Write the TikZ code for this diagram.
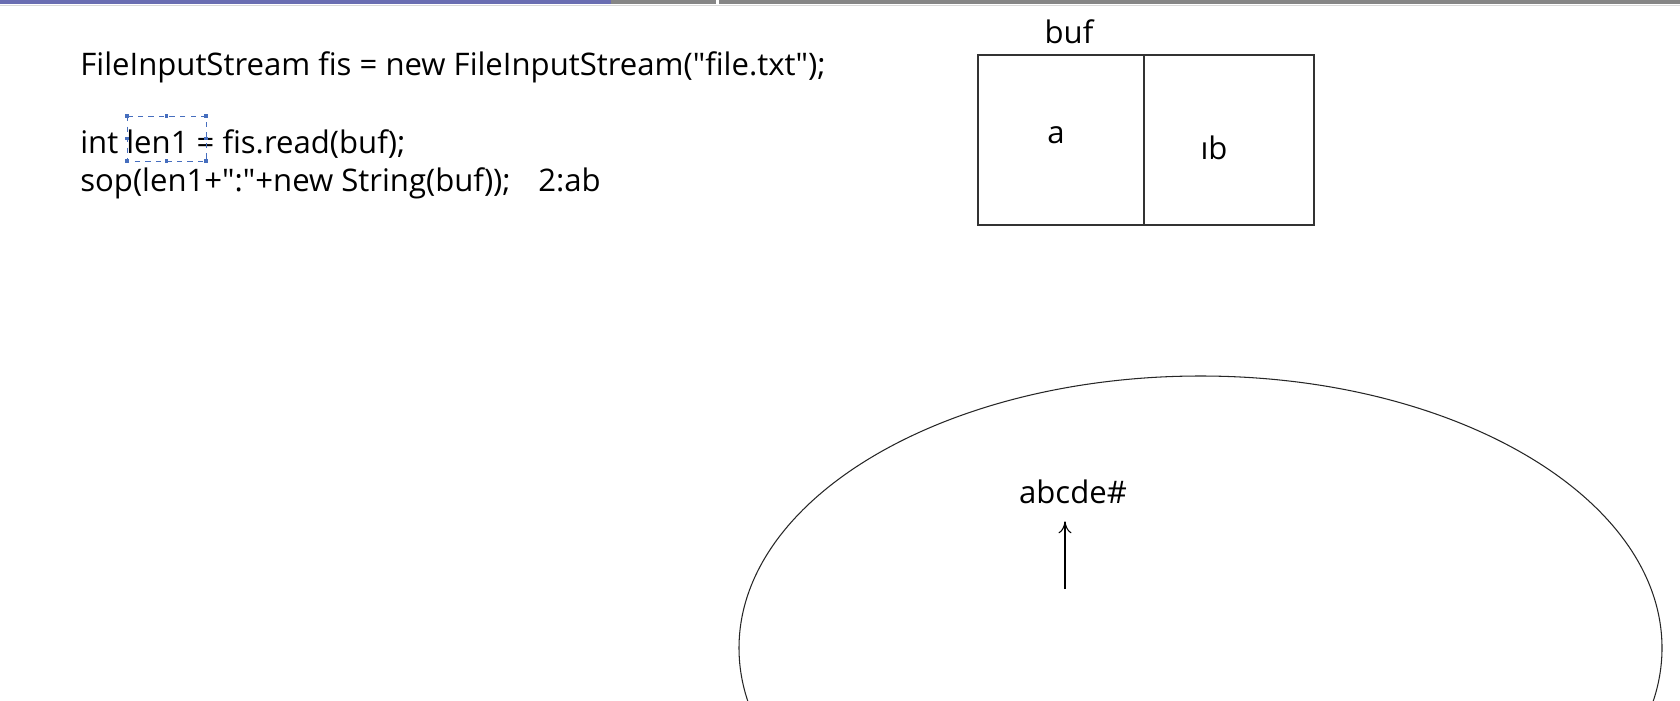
\documentclass[tikz,border=0pt]{standalone}
\usepackage{fontspec}
\setmainfont{Open Sans}
\usetikzlibrary{arrows.meta,positioning,calc}
\definecolor{barblue}{RGB}{106,110,178}
\definecolor{bargrey}{RGB}{134,134,134}
\definecolor{selblue}{RGB}{70,110,190}

\begin{document}
\begin{tikzpicture}[x=0.02cm, y=-0.02cm,
    code/.style={anchor=base west, inner sep=0pt, font=\fontsize{17.7}{21}\selectfont},
    cell/.style={rectangle, draw=black!80, line width=0.8pt, minimum height=3.4cm,
        inner sep=0pt, outer sep=0pt},
    lbl/.style={inner sep=0pt, font=\fontsize{17.7}{21}\selectfont},
    arr/.style={-{To[length=2.4mm, width=2.6mm]}, line width=0.6pt},
    handle/.style={fill=selblue, minimum size=2pt, inner sep=0pt}
]
    \useasboundingbox (0,0) rectangle (1680,700);
    \clip (0,0) rectangle (1680,700);

    % Window bar
    \fill[barblue] (0,0) rectangle (611,4);
    \fill[bargrey] (611,0) rectangle (1680,4);
    \fill[white] (716,0) rectangle (719,4);
    \draw[black!15] (0,5) -- (1680,5);

    % Code
    \node[code] (l1) at (80,75) {FileInputStream fis = new FileInputStream(\textquotedbl file.txt\textquotedbl);};
    \node[code] (l2) at (80,153) {int len1 = fis.read(buf);};
    \node[code] (l3) at (80,191) {sop(len1+\textquotedbl:\textquotedbl+new String(buf));};
    \node[code] (res) at (538,191) {2:ab};

    % Selection frame round len1
    \draw[selblue, dashed, line width=0.5pt] (127,116) rectangle (206,161);
    \foreach \px in {127,166.5,206}
        \foreach \py in {116,161}
            \node[handle] at (\px,\py) {};
    \node[handle] at (127,138.5) {};
    \node[handle] at (206,138.5) {};

    % Buffer
    \node[cell, minimum width=3.32cm, anchor=north west] (cellA) at (978,55) {};
    \node[cell, minimum width=3.4cm, anchor=west] (cellB) at (cellA.east) {};
    \node[lbl, anchor=south] (buf) at ([xshift=0.16cm, yshift=0.22cm]cellA.north) {buf};
    \node[lbl] (a) at ([xshift=-0.1cm, yshift=0.1cm]cellA.center) {a};
    \node[lbl] (b) at ([xshift=-0.3cm, yshift=-0.16cm]cellB.center) {ıb};

    % File
    \draw[black!85, line width=0.6pt] (1200.5,648) ellipse [x radius=461.5, y radius=272];
    \node[lbl] (str) at (1073,492) {abcde\#};
    \coordinate (foot) at (1065,589);
    \draw[arr] (foot) -- ($(foot |- str.south)+(0,17)$);
\end{tikzpicture}
\end{document}
